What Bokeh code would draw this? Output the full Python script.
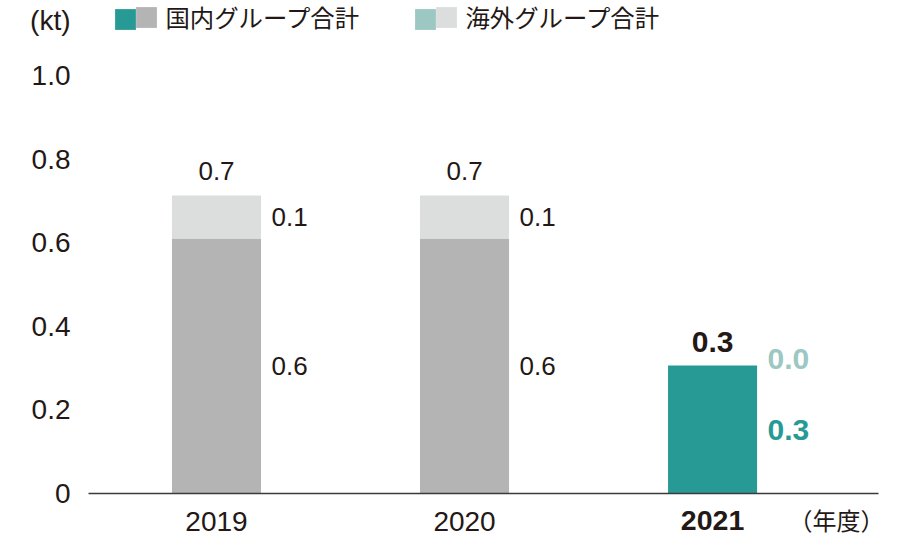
from bokeh.plotting import figure
from bokeh.models import (ColumnDataSource, Range1d, FixedTicker, LinearAxis,
                          Legend, LegendItem)
from bokeh.embed import file_html
from bokeh.resources import INLINE
from bokeh.core.properties import value

# ---------------- data ----------------
years = ["2019", "2020", "2021"]
domestic = [0.61, 0.61, 0.306]     # 国内グループ合計
overseas = [0.103, 0.103, 0.0]     # 海外グループ合計
y_ticks = [0, 0.2, 0.4, 0.6, 0.8, 1]
y_tick_labels = ["0", "0.2", "0.4", "0.6", "0.8", "1.0"]
unit_label = "(kt)"
year_unit_label = "（年度）"
legend_labels = ["国内グループ合計", "海外グループ合計"]

# ---------------- styles ----------------
TEXT = "#231815"
TEAL = "#289A95"
LTEAL = "#9CC7C3"
GRAY = "#B4B4B5"
LGRAY = "#DCDDDD"
AXIS = "#3E3A39"
NUM_FONT = "Liberation Sans"
CJK_FONT = "Noto Sans CJK JP"

xs = list(range(len(years)))
totals = [d + o for d, o in zip(domestic, overseas)]
highlight = [y == "2021" for y in years]

src = ColumnDataSource(dict(
    x=xs,
    dom=domestic,
    total=totals,
    dom_mid=[d / 2 for d in domestic],
    ovs_mid=[d + o / 2 for d, o in zip(domestic, overseas)],
    dom_txt=["%.1f" % v for v in domestic],
    ovs_txt=["%.1f" % v for v in overseas],
    tot_txt=["%.1f" % v for v in totals],
    dom_color=[TEAL if h else GRAY for h in highlight],
    ovs_color=[LTEAL if h else LGRAY for h in highlight],
    dom_lbl_color=[TEAL if h else TEXT for h in highlight],
    ovs_lbl_color=[LTEAL if h else TEXT for h in highlight],
    style=["bold" if h else "normal" for h in highlight],
    fsize=["30px" if h else "26px" for h in highlight],
    ovs_dy=[-7 if o == 0 else 0 for o in overseas],
))

p = figure(width=920, height=555, output_backend="svg", toolbar_location=None,
           x_range=Range1d(-0.516, 2.669), y_range=Range1d(0, 1.1794),
           min_border_left=88, min_border_right=42, min_border_top=0,
           min_border_bottom=62, x_axis_type=None, y_axis_type=None)
p.outline_line_color = None
p.xgrid.visible = False
p.ygrid.visible = False
p.background_fill_color = "white"
p.border_fill_color = "white"

BW = 0.359
r_dom = p.vbar(x="x", width=BW, bottom=0, top="dom", source=src,
               fill_color="dom_color", line_color=None)
r_ovs = p.vbar(x="x", width=BW, bottom="dom", top="total", source=src,
               fill_color="ovs_color", line_color=None)

# value labels
p.text(x="x", y="total", text="tot_txt", source=src, text_align="center",
       text_baseline="alphabetic", y_offset=-24, text_font=value(NUM_FONT),
       text_font_size="fsize", text_font_style="style", text_color=TEXT)
p.text(x="x", y="dom_mid", text="dom_txt", source=src, text_align="left",
       text_baseline="middle", x_offset=55, text_font=value(NUM_FONT),
       text_font_size="fsize", text_font_style="style", text_color="dom_lbl_color")
p.text(x="x", y="ovs_mid", text="ovs_txt", source=src, text_align="left",
       text_baseline="middle", x_offset=55, y_offset="ovs_dy", text_font=value(NUM_FONT),
       text_font_size="fsize", text_font_style="style", text_color="ovs_lbl_color")

# ---------------- y axis ----------------
unit_y = 1.1316
yax = LinearAxis(ticker=FixedTicker(ticks=y_ticks + [unit_y]))
yax.major_label_overrides = {**{t: l for t, l in zip(y_ticks, y_tick_labels)},
                             unit_y: unit_label}
yax.axis_line_color = None
yax.major_tick_line_color = None
yax.minor_tick_line_color = None
yax.major_tick_out = 0
yax.major_label_standoff = 18
yax.major_label_text_font = NUM_FONT
yax.major_label_text_font_size = "28px"
yax.major_label_text_color = TEXT
p.add_layout(yax, "left")

# ---------------- x axes ----------------
norm_ticks = [x for x, h in zip(xs, highlight) if not h]
bold_ticks = [x for x, h in zip(xs, highlight) if h]
xa = LinearAxis(ticker=FixedTicker(ticks=norm_ticks))
xa.major_label_overrides = {x: years[x] for x in norm_ticks}
xa.axis_line_color = AXIS
xa.axis_line_width = 1.6
xa.major_tick_line_color = None
xa.minor_tick_line_color = None
xa.major_tick_out = 0
xa.major_tick_in = 0
xa.major_label_standoff = 18
xa.major_label_text_font = NUM_FONT
xa.major_label_text_font_size = "28px"
xa.major_label_text_color = TEXT
p.add_layout(xa, "below")

xb = LinearAxis(ticker=FixedTicker(ticks=bold_ticks))
xb.major_label_overrides = {x: years[x] for x in bold_ticks}
xb.axis_line_color = None
xb.major_tick_line_color = None
xb.minor_tick_line_color = None
xb.major_tick_out = 0
xb.major_tick_in = 0
xb.major_label_standoff = -23
xb.major_label_text_font = NUM_FONT
xb.major_label_text_font_size = "28.5px"
xb.major_label_text_font_style = "bold"
xb.major_label_text_color = TEXT
p.add_layout(xb, "below")

unit_x = 2.5
xc = LinearAxis(ticker=FixedTicker(ticks=[unit_x]))
xc.major_label_overrides = {unit_x: year_unit_label}
xc.axis_line_color = None
xc.major_tick_line_color = None
xc.minor_tick_line_color = None
xc.major_tick_out = 0
xc.major_tick_in = 0
xc.major_label_standoff = -32
xc.major_label_text_font = CJK_FONT
xc.major_label_text_font_size = "24px"
xc.major_label_text_color = TEXT
p.add_layout(xc, "below")

# ---------------- legend ----------------
GW = 26  # legend swatch box (the drawn square is 80% of it)


def make_legend(label, renderer, idx, loc, with_text):
    lg = Legend(items=[LegendItem(label=label, renderers=[renderer], index=idx)],
                location=loc, orientation="horizontal", padding=0, margin=0,
                spacing=0, glyph_width=GW, glyph_height=GW,
                border_line_color=None, background_fill_alpha=0)
    if with_text:
        lg.label_standoff = 6
        lg.label_text_font = CJK_FONT
        lg.label_text_font_size = "24.4px"
        lg.label_text_color = TEXT
        lg.label_height = GW
    else:
        lg.label_standoff = 0
        lg.label_text_font_size = "1px"
        lg.label_height = 0
    p.add_layout(lg, "center")


hi = highlight.index(True)
lo = highlight.index(False)
make_legend("", r_dom, hi, (24.4, 460.6), False)
make_legend(legend_labels[0], r_dom, lo, (45.4, 458.6), True)
make_legend("", r_ovs, hi, (324.4, 460.6), False)
make_legend(legend_labels[1], r_ovs, lo, (345.4, 458.6), True)

open("out.html", "w").write(file_html(p, INLINE))
